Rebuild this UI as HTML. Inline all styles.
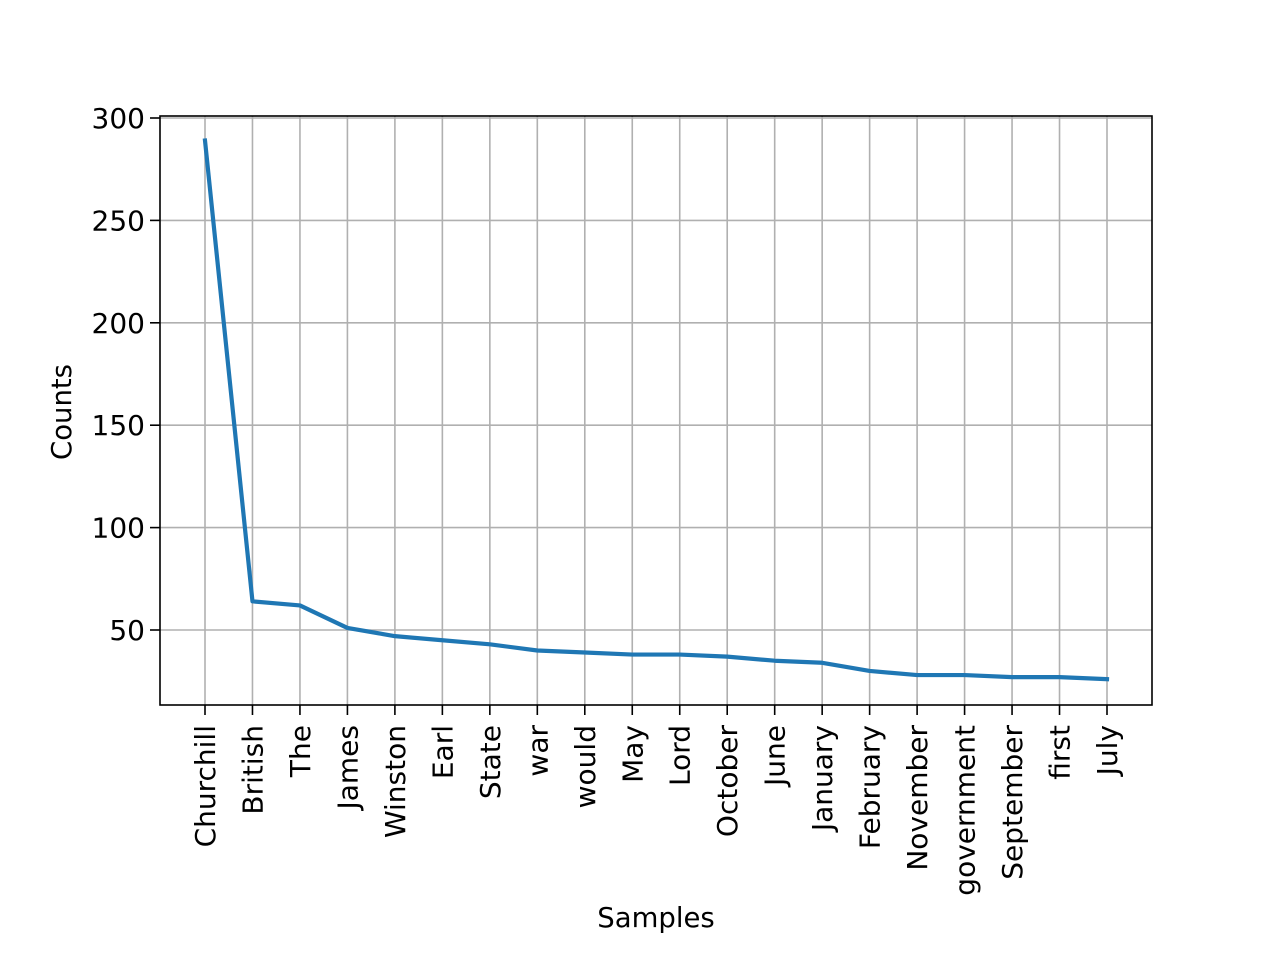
<!DOCTYPE html>
<html><head><meta charset="utf-8"><style>
body{margin:0;background:#fff}
svg text{font-family:"DejaVu Sans","Liberation Sans",sans-serif;fill:#000}
</style></head><body>
<svg id="chart" width="1280" height="960" viewBox="0 0 1280 960" xmlns="http://www.w3.org/2000/svg">
<rect width="1280" height="960" fill="#fff"/>
<g id="grid"></g><g id="ticks"></g><g id="plot"></g>
<rect x="160" y="116" width="992" height="589" fill="none" stroke="#000" stroke-width="1.6"/>
<text x="656" y="927" font-size="27.5" text-anchor="middle">Samples</text>
<text transform="translate(71,412) rotate(-90)" font-size="27.5" text-anchor="middle">Counts</text>
</svg>
<script>
const categories=["Churchill","British","The","James","Winston","Earl","State","war","would","May","Lord","October","June","January","February","November","government","September","first","July"];
const counts=[289,64,62,51,47,45,43,40,39,38,38,37,35,34,30,28,28,27,27,26];
const yTicks=[50,100,150,200,250,300];
const NS="http://www.w3.org/2000/svg";
function xs(i){return 205+i*(1107-205)/(categories.length-1);}
function ys(v){return 630-(v-50)*(630-118)/250;}
function mk(t,a,p){const e=document.createElementNS(NS,t);for(const k in a)e.setAttribute(k,a[k]);p.appendChild(e);return e;}
const grid=document.getElementById('grid'),ticks=document.getElementById('ticks'),plot=document.getElementById('plot');
categories.forEach((c,i)=>{
  const x=xs(i);
  const g=mk('line',{x1:x,x2:x,y1:116,y2:705,stroke:'#b0b0b0','stroke-width':1.6},grid);
  
  
  const t=mk('line',{x1:x,x2:x,y1:705,y2:715,stroke:'#000','stroke-width':1.6},ticks);
  
  
  const l=mk('text',{transform:`translate(${x+10},725) rotate(-90)`,'font-size':28,'text-anchor':'end'},ticks);
  l.textContent=c;
  
  
});
yTicks.forEach(v=>{
  const y=ys(v);
  const g=mk('line',{x1:160,x2:1152,y1:y,y2:y,stroke:'#b0b0b0','stroke-width':1.6},grid);
  
  
  const t=mk('line',{x1:150,x2:160,y1:y,y2:y,stroke:'#000','stroke-width':1.6},ticks);
  
  
  const l=mk('text',{x:145,y:y+10,'font-size':28,'text-anchor':'end'},ticks);
  l.textContent=v;
  
  
});
const pts=counts.map((v,i)=>xs(i)+','+ys(v)).join(' ');
const line=mk('polyline',{points:pts,fill:'none',stroke:'#1f77b4','stroke-width':4.2,'stroke-linecap':'square','stroke-linejoin':'round'},plot);


</script>
</body></html>
